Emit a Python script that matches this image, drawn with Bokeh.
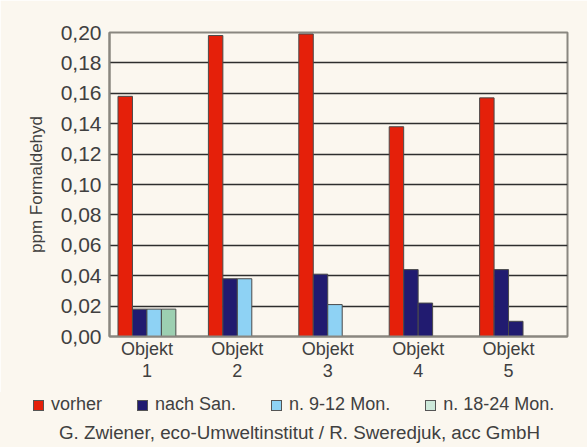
from bokeh.plotting import figure
from bokeh.layouts import column
from bokeh.models import ColumnDataSource, Range1d, FixedTicker, Div
from bokeh.transform import dodge
from bokeh.embed import file_html
from bokeh.resources import INLINE

# ---- data ----
objects = ["Objekt\n1", "Objekt\n2", "Objekt\n3", "Objekt\n4", "Objekt\n5"]
vorher = [0.158, 0.198, 0.199, 0.138, 0.157]
nach_san = [0.018, 0.038, 0.041, 0.044, 0.044]
n_9_12 = [0.018, 0.038, 0.021, 0.022, 0.010]
n_9_12_colors = ["#8ed2f4", "#8ed2f4", "#8ed2f4", "#211b70", "#211b70"]
n_18_24 = [0.018, 0.0, 0.0, 0.0, 0.0]
series_names = ["vorher", "nach San.", "n. 9-12 Mon.", "n. 18-24 Mon."]
y_ticks = [0.00, 0.02, 0.04, 0.06, 0.08, 0.10, 0.12, 0.14, 0.16, 0.18, 0.20]
y_tick_labels = ["0,00", "0,02", "0,04", "0,06", "0,08", "0,10", "0,12", "0,14", "0,16", "0,18", "0,20"]
y_axis_label = "ppm Formaldehyd"
credit = "G. Zwiener, eco-Umweltinstitut / R. Sweredjuk, acc GmbH"

x_pos = list(range(1, len(objects) + 1))

RED = "#e5200a"
NAVY = "#211b70"
LBLUE = "#8ed2f4"
GREEN = "#9ccfb1"
GREEN_LEG = "#cde9da"
EDGE = "#4a4a4a"
BG = "#fbf7ef"
TXT = "#404040"
FONT = "Liberation Sans"

src = ColumnDataSource(dict(x=x_pos, vorher=vorher, nach=nach_san, n912=n_9_12,
                            c912=n_9_12_colors, n1824=n_18_24))

W = 587
p = figure(width=W, height=392, output_backend="svg", toolbar_location=None,
           x_range=Range1d(0.586, 5.652), y_range=Range1d(0, 0.2),
           min_border_left=109, min_border_right=20, min_border_top=32, min_border_bottom=56)
p.background_fill_color = BG
p.border_fill_color = BG
p.outline_line_color = "#8a8780"
p.outline_line_width = 2

w = 0.16
p.vbar(x=dodge("x", -0.24), top="vorher", width=w, source=src, fill_color=RED, line_color=EDGE, line_width=1)
p.vbar(x=dodge("x", -0.08), top="nach", width=w, source=src, fill_color=NAVY, line_color=EDGE, line_width=1)
p.vbar(x=dodge("x", 0.08), top="n912", width=w, source=src, fill_color="c912", line_color=EDGE, line_width=1)
p.vbar(x=dodge("x", 0.24), top="n1824", width=w, source=src, fill_color=GREEN, line_color=EDGE, line_width=1)

# axes
p.xgrid.grid_line_color = None
p.ygrid.grid_line_color = "#2e2e2e"
p.ygrid.grid_line_width = 1.6
p.ygrid.ticker = FixedTicker(ticks=y_ticks)

p.yaxis.ticker = FixedTicker(ticks=y_ticks)
p.yaxis.major_label_overrides = {t: l for t, l in zip(y_ticks, y_tick_labels)}
p.yaxis.major_label_text_font = FONT
p.yaxis.major_label_text_font_size = "21px"
p.yaxis.major_label_text_color = TXT
p.yaxis.major_label_standoff = 8
p.yaxis.major_tick_out = 0
p.yaxis.major_tick_in = 0
p.yaxis.minor_tick_out = 0
p.yaxis.minor_tick_in = 0
p.yaxis.axis_line_color = "#8a8780"
p.yaxis.axis_line_width = 2
p.yaxis.axis_label = y_axis_label
p.yaxis.axis_label_text_font = FONT
p.yaxis.axis_label_text_font_size = "17px"
p.yaxis.axis_label_text_font_style = "normal"
p.yaxis.axis_label_text_color = TXT
p.yaxis.axis_label_standoff = 12

p.xaxis.ticker = FixedTicker(ticks=x_pos)
p.xaxis.major_label_overrides = {x: l for x, l in zip(x_pos, objects)}
p.xaxis.major_label_text_font = FONT
p.xaxis.major_label_text_font_size = "18px"
p.xaxis.major_label_text_line_height = 1.12
p.xaxis.major_label_text_color = TXT
p.xaxis.major_label_standoff = 2
p.xaxis.major_tick_out = 0
p.xaxis.major_tick_in = 0
p.xaxis.minor_tick_out = 0
p.xaxis.minor_tick_in = 0
p.xaxis.axis_line_color = "#8a8780"
p.xaxis.axis_line_width = 2

# ---- legend + credit (HTML text below the chart) ----
leg_colors = [RED, NAVY, LBLUE, GREEN_LEG]
items = []
for i, (name, c) in enumerate(zip(series_names, leg_colors)):
    gap = 0 if i == len(series_names) - 1 else 35
    items.append(
        f'<span style="display:inline-block;width:11px;height:11px;background:{c};'
        f'border:1px solid #555;margin-right:7px;vertical-align:-1px"></span>'
        f'<span style="margin-right:{gap}px">{name}</span>')
html = (f'<div style="font-family:\'{FONT}\';color:{TXT};width:{W}px;">'
        f'<div style="font-size:18px;line-height:22px;padding-top:1px;padding-left:33px;white-space:nowrap">'
        + "".join(items) + '</div>'
        f'<div style="font-size:18.8px;line-height:22px;margin-top:7px;padding-left:12px;'
        f'text-align:center;white-space:nowrap">{credit}</div></div>')
div = Div(text=html, width=W, height=55, margin=0,
          styles={"background-color": BG})

layout = column(p, div, spacing=0)
open("out.html", "w").write(file_html(layout, INLINE))
